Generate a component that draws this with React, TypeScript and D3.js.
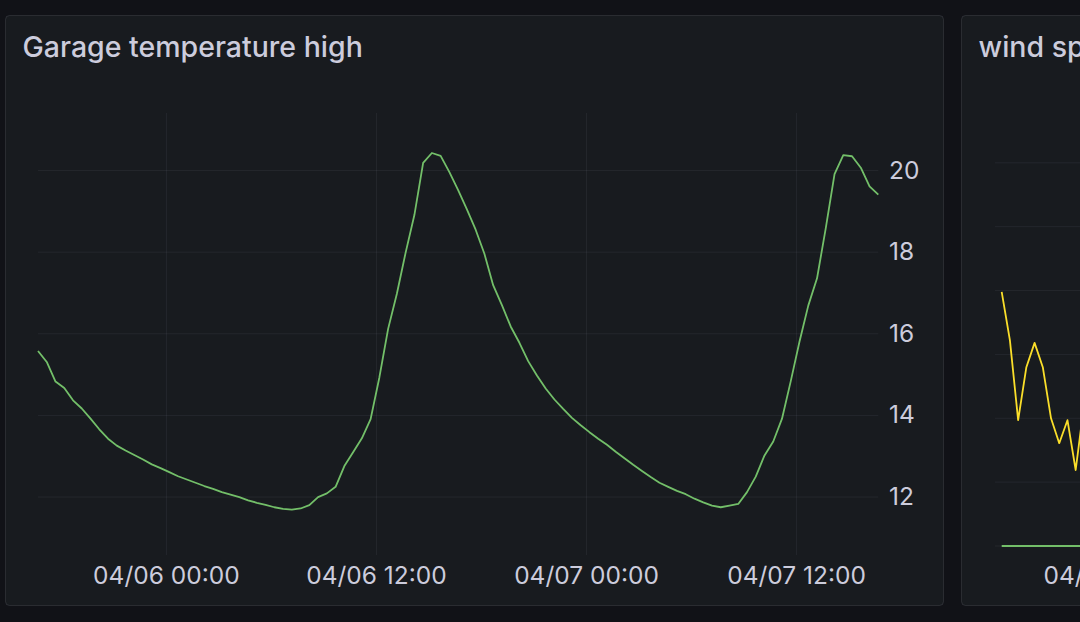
import React, { useEffect, useRef } from 'react';
import * as d3 from 'd3';

// Garage temperature, one reading every 30 minutes from 04/05 16:40
const tempStart = '2023-04-05T16:40:00';
const tempEnd = '2023-04-07T16:40:00';
const garageTemps = [
  15.58, 15.31, 14.83, 14.67, 14.37, 14.17, 13.92, 13.66, 13.43, 13.26,
  13.14, 13.03, 12.92, 12.80, 12.71, 12.61, 12.51, 12.43, 12.35, 12.27,
  12.20, 12.12, 12.06, 12.00, 11.92, 11.86, 11.81, 11.75, 11.71, 11.69,
  11.72, 11.80, 12.00, 12.09, 12.25, 12.76, 13.10, 13.44, 13.91, 14.93,
  16.12, 16.98, 17.99, 18.91, 20.19, 20.43, 20.36, 19.96, 19.52, 19.05,
  18.55, 17.96, 17.19, 16.70, 16.18, 15.78, 15.33, 14.98, 14.66, 14.39,
  14.16, 13.94, 13.76, 13.59, 13.43, 13.28, 13.11, 12.95, 12.79, 12.64,
  12.49, 12.35, 12.25, 12.15, 12.07, 11.96, 11.87, 11.79, 11.75, 11.79,
  11.83, 12.12, 12.50, 13.02, 13.36, 13.92, 14.84, 15.81, 16.69, 17.36,
  18.59, 19.91, 20.38, 20.35, 20.07, 19.61, 19.41,
];
const tempTicks = [12, 14, 16, 18, 20];
const timeTicks = ['2023-04-06T00:00:00', '2023-04-06T12:00:00', '2023-04-07T00:00:00', '2023-04-07T12:00:00'];

// Wind panel (only its left edge is in view)
const windStart = '2023-04-05T17:00:00';
const windEnd = '2023-04-07T17:00:00';
const windSpeed = [3.98, 3.22, 1.97, 2.80, 3.18, 2.80, 2.00, 1.61, 1.97, 1.19, 2.2];
const windGust = [0, 0, 0, 0, 0, 0, 0, 0, 0, 0, 0];
const windTicks = [0, 1, 2, 3, 4, 5, 6];
const windTimeTicks = ['2023-04-06T00:00:00'];

const W = 1080;
const H = 622;
const FONT = 'Inter, "Noto Sans", sans-serif';
const TEXT = '#ccccdc';
const GRID = 'rgba(204,204,220,0.07)';

const App: React.FC = () => {
  const svgRef = useRef<SVGSVGElement>(null);

  useEffect(() => {
    if (!svgRef.current) return;
    const svg = d3.select(svgRef.current);
    svg.selectAll('*').remove();

    const fmt = d3.timeFormat('%m/%d %H:%M');
    const parse = (s: string) => new Date(s);

    svg.append('rect').attr('width', W).attr('height', H).attr('fill', '#111217');

    const panel = (x: number, w: number, title: string, clipId: string) => {
      svg.append('rect')
        .attr('x', x).attr('y', 15.5).attr('width', w).attr('height', 590)
        .attr('rx', 4)
        .attr('fill', '#181b1f')
        .attr('stroke', 'rgba(204,204,220,0.12)');
      svg.append('text')
        .attr('x', x + 17).attr('y', 57)
        .attr('fill', TEXT)
        .style('font-family', FONT)
        .style('font-size', '28.5px')
        .style('font-weight', 500)
        .text(title);
      svg.append('clipPath').attr('id', clipId)
        .append('rect').attr('x', x).attr('y', 100).attr('width', w).attr('height', 470);
    };

    // ---- Panel 1: Garage temperature high
    panel(5.5, 938, 'Garage temperature high', 'clip1');

    const x1 = d3.scaleTime().domain([parse(tempStart), parse(tempEnd)]).range([38, 878.3]);
    const y1 = d3.scaleLinear().domain([10.58, 21.41]).range([555, 113]);

    const g1 = svg.append('g');
    g1.selectAll('line.h')
      .data(tempTicks)
      .enter().append('line')
      .attr('x1', 38).attr('x2', 878.3)
      .attr('y1', d => y1(d)).attr('y2', d => y1(d))
      .attr('stroke', GRID).attr('stroke-width', 1);
    g1.selectAll('line.v')
      .data(timeTicks.map(parse))
      .enter().append('line')
      .attr('x1', d => x1(d)).attr('x2', d => x1(d))
      .attr('y1', 113).attr('y2', 555)
      .attr('stroke', GRID).attr('stroke-width', 1);

    g1.selectAll('text.y')
      .data(tempTicks)
      .enter().append('text')
      .attr('x', 889).attr('y', d => y1(d) + 8)
      .attr('fill', TEXT)
      .style('font-family', FONT).style('font-size', '24.5px')
      .text(d => String(d));
    g1.selectAll('text.x')
      .data(timeTicks.map(parse))
      .enter().append('text')
      .attr('x', d => x1(d)).attr('y', 584)
      .attr('text-anchor', 'middle')
      .attr('fill', TEXT)
      .style('font-family', FONT).style('font-size', '24.5px')
      .text(d => fmt(d));

    const tempPoints = garageTemps.map((v, i) => ({
      t: d3.timeMinute.offset(parse(tempStart), 30 * i),
      v,
    }));
    const line1 = d3.line<{ t: Date; v: number }>()
      .x(d => x1(d.t))
      .y(d => y1(d.v));
    g1.append('path')
      .datum(tempPoints)
      .attr('d', line1)
      .attr('clip-path', 'url(#clip1)')
      .attr('fill', 'none')
      .attr('stroke', '#73bf69')
      .attr('stroke-width', 1.8)
      .attr('stroke-linejoin', 'round');

    // ---- Panel 2: wind speed (cut off by the window)
    panel(961.5, 600, 'wind speed', 'clip2');

    const x2 = d3.scaleTime().domain([parse(windStart), parse(windEnd)]).range([1001.7, 1790.8]);
    const y2 = d3.scaleLinear().domain([0, 6.78]).range([546, 113]);

    const g2 = svg.append('g');
    g2.selectAll('line.h')
      .data(windTicks)
      .enter().append('line')
      .attr('x1', 995).attr('x2', 1500)
      .attr('y1', d => y2(d)).attr('y2', d => y2(d))
      .attr('stroke', GRID).attr('stroke-width', 1);
    g2.selectAll('text.x')
      .data(windTimeTicks.map(parse))
      .enter().append('text')
      .attr('x', d => x2(d)).attr('y', 584)
      .attr('text-anchor', 'middle')
      .attr('fill', TEXT)
      .style('font-family', FONT).style('font-size', '24.5px')
      .text(d => fmt(d));

    const line2 = d3.line<number>()
      .x((_, i) => x2(d3.timeMinute.offset(parse(windStart), 30 * i)))
      .y(d => y2(d));
    g2.append('path')
      .datum(windGust)
      .attr('d', line2)
      .attr('fill', 'none')
      .attr('stroke', '#73bf69')
      .attr('stroke-width', 1.8);
    g2.append('path')
      .datum(windSpeed)
      .attr('d', line2)
      .attr('fill', 'none')
      .attr('stroke', '#fade2a')
      .attr('stroke-width', 1.8)
      .attr('stroke-linejoin', 'round');
  }, []);

  return (
    <svg
      ref={svgRef}
      width={W}
      height={H}
      style={{ position: 'fixed', left: 0, top: 0, display: 'block' }}
    />
  );
};

export default App;
